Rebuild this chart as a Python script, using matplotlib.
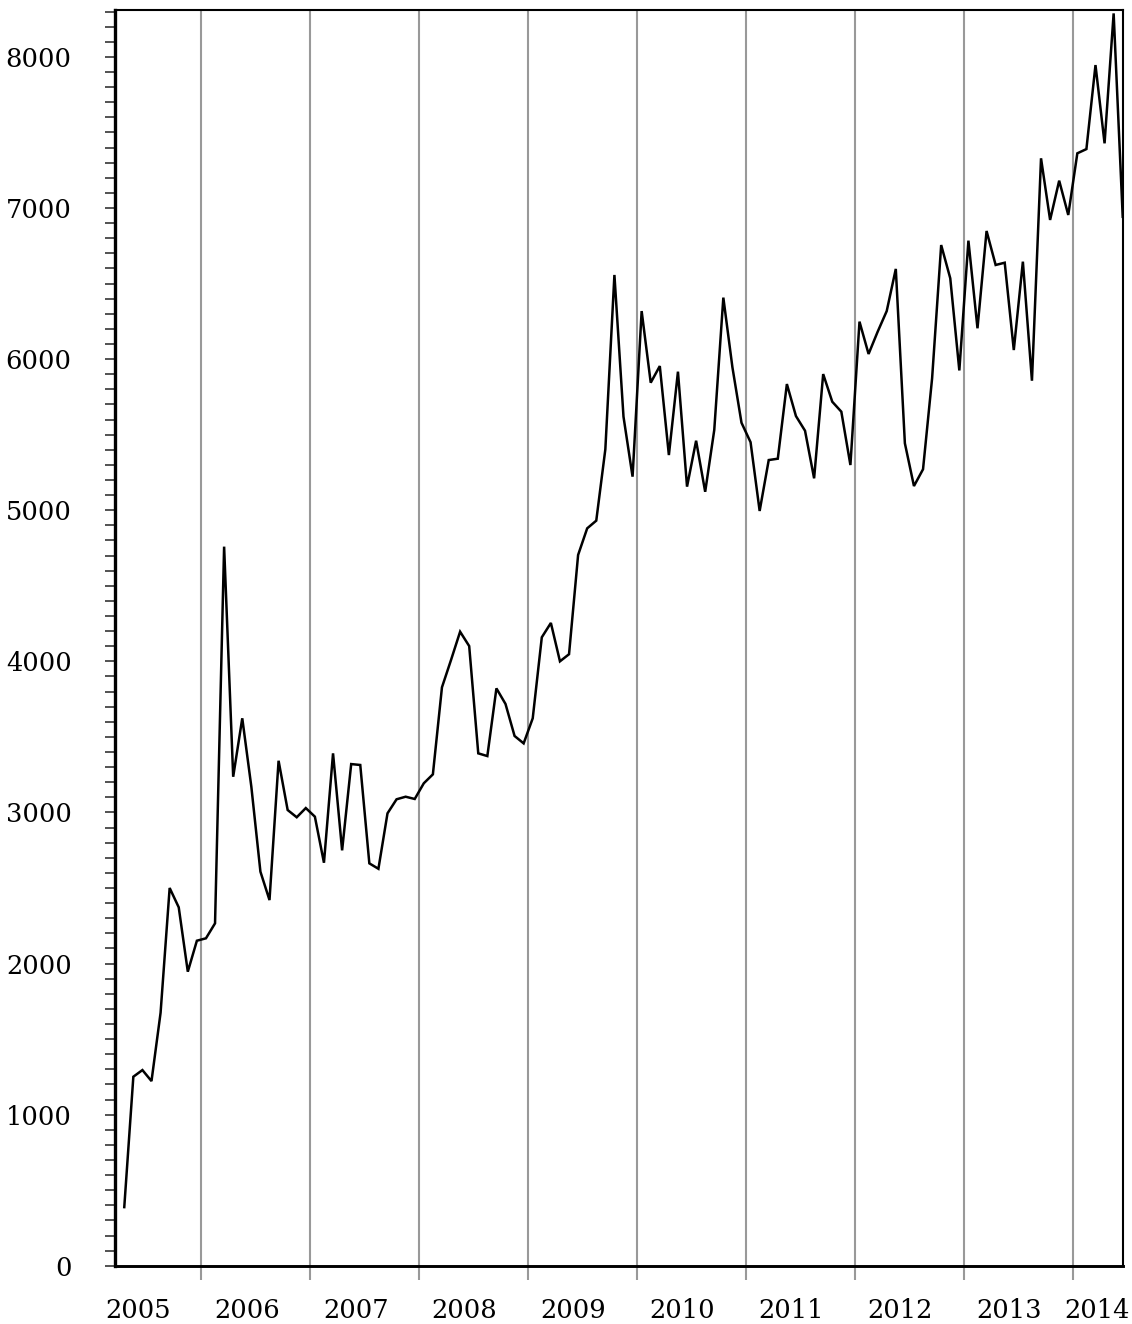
import matplotlib
matplotlib.use("Agg")
import matplotlib.pyplot as plt
import numpy as np

# Monthly series starting April 2005
start_year = 2005
start_month = 4
values = [
    388, 1251, 1295, 1222, 1674, 2500, 2372, 1946, 2151,                       # 2005 Apr-Dec
    2167, 2266, 4759, 3236, 3623, 3170, 2608, 2420, 3342, 3016, 2968, 3029,    # 2006
    2972, 2667, 3391, 2749, 3320, 3314, 2663, 2627, 2994, 3087, 3104, 3089,    # 2007
    3193, 3252, 3828, 4009, 4196, 4101, 3391, 3373, 3821, 3718, 3506, 3457,    # 2008
    3623, 4159, 4254, 4000, 4047, 4704, 4880, 4931, 5403, 6557, 5619, 5222,    # 2009
    6318, 5844, 5954, 5365, 5917, 5156, 5460, 5122, 5531, 6407, 5946, 5579,    # 2010
    5450, 4995, 5332, 5341, 5835, 5623, 5526, 5211, 5901, 5718, 5652, 5299,    # 2011
    6248, 6034, 6181, 6318, 6597, 5443, 5160, 5271, 5873, 6755, 6535, 5925,    # 2012
    6784, 6204, 6848, 6623, 6638, 6060, 6645, 5857, 7329, 6921, 7181, 6954,    # 2013
    7362, 7390, 7946, 7428, 8288, 6942,                                        # 2014 Jan-Jun
]
year_labels = ["2005", "2006", "2007", "2008", "2009", "2010", "2011", "2012", "2013", "2014"]
year_bounds = [2006, 2007, 2008, 2009, 2010, 2011, 2012, 2013, 2014]
y_ticks = [0, 1000, 2000, 3000, 4000, 5000, 6000, 7000, 8000]

n = len(values)
x = start_year + (start_month - 1 + np.arange(n) + 0.5) / 12.0

plt.rcParams['font.family'] = ['DejaVu Serif']
fsize = 18.5

fig = plt.figure(figsize=(11.32, 13.24), dpi=100)
ax = fig.add_axes([0.102, 0.044, 0.8898, 0.9484])

ax.plot(x, values, color='black', lw=1.8, solid_joinstyle='miter', zorder=3)

ax.set_xlim(x[0] - 0.97 / 12, x[-1])
ax.set_ylim(0, 8310)

# year boundary gridlines with ticks
ax.set_xticks(year_bounds)
ax.set_xticklabels([])
ax.tick_params(axis='x', which='major', length=10, width=1.5, color='#999999', direction='out')
for b in year_bounds:
    ax.axvline(b, color='#999999', lw=1.5, zorder=1)

# year labels as minor ticks
label_pos = [int(l) + 5 / 12 for l in year_labels[:-1]] + [2014.22]
ax.set_xticks(label_pos, minor=True)
ax.set_xticklabels(year_labels, minor=True, fontsize=fsize)
ax.tick_params(axis='x', which='minor', length=0, pad=23)

ax.set_yticks(y_ticks)
ax.set_yticklabels([str(v) for v in y_ticks], fontsize=fsize)
ax.set_yticks(np.arange(0, 8400, 100), minor=True)
ax.tick_params(axis='y', which='both', length=7.5, width=1.3, color='#444444', direction='out')
ax.tick_params(axis='y', which='major', pad=24)

ax.spines['left'].set_linewidth(2.4)
ax.spines['bottom'].set_linewidth(2.1)
ax.spines['top'].set_linewidth(1.5)
ax.spines['right'].set_linewidth(1.5)
for s in ax.spines.values():
    s.set_color('black')
    s.set_zorder(4)

fig.savefig('out.png', dpi=100)
